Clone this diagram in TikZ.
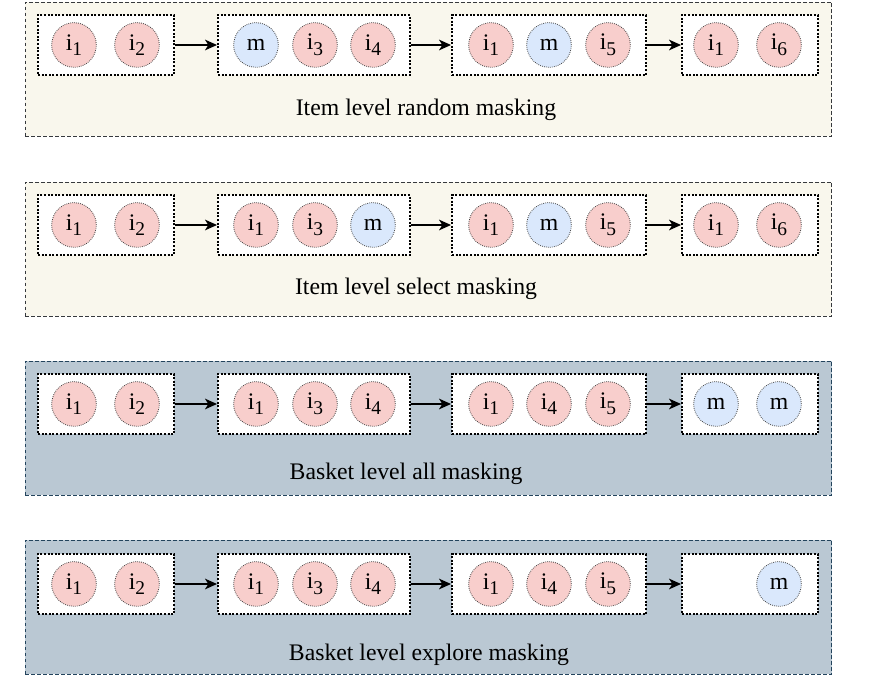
\documentclass[tikz,border=0pt]{standalone}
\usepackage{fontspec}
\setmainfont{Liberation Serif}
\usepackage{tikz}
\usetikzlibrary{arrows.meta}

\definecolor{itempink}{HTML}{F8CECC}
\definecolor{maskblue}{HTML}{DAE8FC}
\definecolor{itembeige}{HTML}{F9F7ED}
\definecolor{itemline}{HTML}{36393D}
\definecolor{basketgrey}{HTML}{BAC8D3}
\definecolor{basketline}{HTML}{23445D}

\newcommand{\itm}[1]{i\raisebox{-0.24em}{\fontsize{14.6}{16}\selectfont #1}}

\begin{document}
\begin{tikzpicture}[x=0.75pt,y=-0.75pt,
	every node/.style={font=\fontsize{17.8}{21}\selectfont},
	item/.style={shape=circle,fill=itempink,draw=black!75,line width=0.6pt,dash pattern=on 0.6pt off 0.9pt,minimum size=33.5pt,inner sep=0pt},
	mask/.style={item,fill=maskblue},
	basket/.style={shape=rectangle,fill=white,draw=black,line width=1.5pt,dash pattern=on 1.5pt off 1.2pt,minimum height=45pt,inner sep=0pt},
	itempanel/.style={shape=rectangle,fill=itembeige,draw=itemline,line width=0.6pt,dash pattern=on 2.5pt off 2pt,minimum width=605pt,minimum height=100.5pt},
	basketpanel/.style={itempanel,fill=basketgrey,draw=basketline},
	seq/.style={-{Stealth[length=9pt,width=8pt,inset=2.5pt]},line width=1pt}]

	\useasboundingbox (0,0) rectangle (870,684);

	% item level random masking
	\begin{scope}[shift={(0,0)}]
	\node[itempanel] (pa) at (428.5, 69) {};
	\node[basket,minimum width=102pt] (a1) at (106, 45) {};
	\node[basket,minimum width=144pt] (a2) at (314, 45) {};
	\node[basket,minimum width=145.5pt] (a3) at (549, 45) {};
	\node[basket,minimum width=102pt] (a4) at (750, 45) {};
	\node[item] (a11) at (74, 45)  {\itm{1}};
	\node[item] (a12) at (137, 45) {\itm{2}};
	\node[mask] (a21) at (256, 45) {m};
	\node[item] (a22) at (315, 45) {\itm{3}};
	\node[item] (a23) at (373, 45) {\itm{4}};
	\node[item] (a31) at (491, 45) {\itm{1}};
	\node[mask] (a32) at (549, 45) {m};
	\node[item] (a33) at (608, 45) {\itm{5}};
	\node[item] (a41) at (716, 45) {\itm{1}};
	\node[item] (a42) at (779, 45) {\itm{6}};
	\node (la) at (426, 110) {Item level random masking};

	\path[seq] (a1) edge (a2);
	\path[seq] (a2) edge (a3);
	\path[seq] (a3) edge (a4);
	\end{scope}

	% item level select masking
	\begin{scope}[shift={(0,180)}]
	\node[itempanel] (pb) at (428.5, 69) {};
	\node[basket,minimum width=102pt] (b1) at (106, 45) {};
	\node[basket,minimum width=144pt] (b2) at (314, 45) {};
	\node[basket,minimum width=145.5pt] (b3) at (549, 45) {};
	\node[basket,minimum width=102pt] (b4) at (750, 45) {};
	\node[item] (b11) at (74, 45)  {\itm{1}};
	\node[item] (b12) at (137, 45) {\itm{2}};
	\node[item] (b21) at (256, 45) {\itm{1}};
	\node[item] (b22) at (315, 45) {\itm{3}};
	\node[mask] (b23) at (373, 45) {m};
	\node[item] (b31) at (491, 45) {\itm{1}};
	\node[mask] (b32) at (549, 45) {m};
	\node[item] (b33) at (608, 45) {\itm{5}};
	\node[item] (b41) at (716, 45) {\itm{1}};
	\node[item] (b42) at (779, 45) {\itm{6}};
	\node (lb) at (416, 109) {Item level select masking};

	\path[seq] (b1) edge (b2);
	\path[seq] (b2) edge (b3);
	\path[seq] (b3) edge (b4);
	\end{scope}

	% basket level all masking
	\begin{scope}[shift={(0,359)}]
	\node[basketpanel] (pc) at (428.5, 69) {};
	\node[basket,minimum width=102pt] (c1) at (106, 45) {};
	\node[basket,minimum width=144pt] (c2) at (314, 45) {};
	\node[basket,minimum width=145.5pt] (c3) at (549, 45) {};
	\node[basket,minimum width=102pt] (c4) at (750, 45) {};
	\node[item] (c11) at (74, 45)  {\itm{1}};
	\node[item] (c12) at (137, 45) {\itm{2}};
	\node[item] (c21) at (256, 45) {\itm{1}};
	\node[item] (c22) at (315, 45) {\itm{3}};
	\node[item] (c23) at (373, 45) {\itm{4}};
	\node[item] (c31) at (491, 45) {\itm{1}};
	\node[item] (c32) at (549, 45) {\itm{4}};
	\node[item] (c33) at (608, 45) {\itm{5}};
	\node[mask] (c41) at (716, 45) {m};
	\node[mask] (c42) at (779, 45) {m};
	\node (lc) at (406, 115) {Basket level all masking};

	\path[seq] (c1) edge (c2);
	\path[seq] (c2) edge (c3);
	\path[seq] (c3) edge (c4);
	\end{scope}

	% basket level explore masking
	\begin{scope}[shift={(0,538)}]
	\node[basketpanel] (pd) at (428.5, 69) {};
	\node[basket,minimum width=102pt] (d1) at (106, 46) {};
	\node[basket,minimum width=144pt] (d2) at (314, 46) {};
	\node[basket,minimum width=145.5pt] (d3) at (549, 46) {};
	\node[basket,minimum width=102pt] (d4) at (750, 46) {};
	\node[item] (d11) at (74, 46)  {\itm{1}};
	\node[item] (d12) at (137, 46) {\itm{2}};
	\node[item] (d21) at (256, 46) {\itm{1}};
	\node[item] (d22) at (315, 46) {\itm{3}};
	\node[item] (d23) at (373, 46) {\itm{4}};
	\node[item] (d31) at (491, 46) {\itm{1}};
	\node[item] (d32) at (549, 46) {\itm{4}};
	\node[item] (d33) at (608, 46) {\itm{5}};
	\node[mask] (d42) at (779, 46) {m};
	\node (ld) at (429, 117) {Basket level explore masking};

	\path[seq] (d1) edge (d2);
	\path[seq] (d2) edge (d3);
	\path[seq] (d3) edge (d4);
	\end{scope}

\end{tikzpicture}
\end{document}
